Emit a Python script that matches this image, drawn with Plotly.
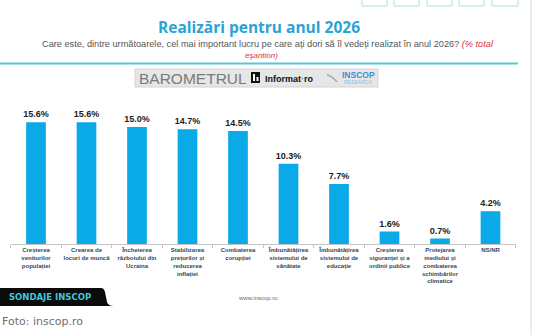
import plotly.graph_objects as go

# Survey answers: "most important achievement wanted in 2026" (% of total sample)
categories = [
    "Creșterea<br>veniturilor<br>populației",
    "Crearea de<br>locuri de muncă",
    "Încheierea<br>războiului din<br>Ucraina",
    "Stabilizarea<br>prețurilor și<br>reducerea<br>inflației",
    "Combaterea<br>corupției",
    "Îmbunătățirea<br>sistemului de<br>sănătate",
    "Îmbunătățirea<br>sistemului de<br>educație",
    "Creșterea<br>siguranței și a<br>ordinii publice",
    "Protejarea<br>mediului și<br>combaterea<br>schimbărilor<br>climatice",
    "NS/NR",
]
values = [15.6, 15.6, 15.0, 14.7, 14.5, 10.3, 7.7, 1.6, 0.7, 4.2]

title_text = "Realizări pentru anul 2026"
question_text = ("Care este, dintre următoarele, cel mai important lucru pe care "
                 "ați dori să îl vedeți realizat în anul 2026?")
note_line1 = "(% total"
note_line2 = "eșantion)"

W, H = 540, 335


def X(px):
    return px / W


def Y(py):
    return 1 - py / H


BAR_BLUE = "#0aaae8"
TITLE_BLUE = "#2aa2d6"

fig = go.Figure(
    go.Bar(
        x=categories,
        y=values,
        width=0.39,
        marker=dict(color=BAR_BLUE, line=dict(width=0)),
        texttemplate="%{y:.1f}%",
        textposition="outside",
        constraintext="none",
        textfont=dict(family="Liberation Sans", size=9, color="#222222", weight="bold"),
        cliponaxis=False,
        hoverinfo="skip",
    )
)

shapes = []
annotations = []

# top-right toolbar buttons
for x0, x1 in [(362, 387), (394, 419), (427, 452), (459, 484), (492, 518)]:
    shapes.append(dict(type="rect", xref="paper", yref="paper",
                       x0=X(x0), x1=X(x1), y0=Y(6), y1=Y(-3),
                       line=dict(color="#b4dede", width=1), fillcolor="white"))

# right page border
shapes.append(dict(type="line", xref="paper", yref="paper",
                   x0=X(531), x1=X(531), y0=0, y1=1,
                   line=dict(color="#ececec", width=2)))

# cyan divider under the header
shapes.append(dict(type="line", xref="paper", yref="paper",
                   x0=X(0), x1=X(518), y0=Y(63.5), y1=Y(63.5),
                   line=dict(color="#5cc3d8", width=2)))

# logo band
shapes.append(dict(type="rect", xref="paper", yref="paper",
                   x0=X(135), x1=X(378), y0=Y(87), y1=Y(69),
                   line=dict(color="#d4d4d4", width=1), fillcolor="#e6e6e6"))
shapes.append(dict(type="rect", xref="paper", yref="paper",
                   x0=X(251), x1=X(260), y0=Y(83), y1=Y(72),
                   line=dict(width=0), fillcolor="#111111"))
shapes.append(dict(type="rect", xref="paper", yref="paper",
                   x0=X(253), x1=X(255), y0=Y(81), y1=Y(74),
                   line=dict(width=0), fillcolor="white"))
shapes.append(dict(type="rect", xref="paper", yref="paper",
                   x0=X(256.5), x1=X(258.5), y0=Y(81), y1=Y(77),
                   line=dict(width=0), fillcolor="white"))
shapes.append(dict(type="path", xref="paper", yref="paper",
                   path=(f"M {X(327)},{Y(74)} Q {X(333)},{Y(76)} {X(338)},{Y(82)} "
                         f"L {X(336)},{Y(82)} Q {X(332)},{Y(77)} {X(327)},{Y(75.5)} Z"),
                   line=dict(width=0), fillcolor="#9aa6b2"))

# "SONDAJE INSCOP" tab
shapes.append(dict(type="path", xref="paper", yref="paper",
                   path=(f"M {X(0)},{Y(288)} L {X(101)},{Y(288)} "
                         f"Q {X(104)},{Y(288)} {X(105)},{Y(292)} "
                         f"L {X(107)},{Y(302)} Q {X(108)},{Y(306)} {X(114)},{Y(306)} "
                         f"L {X(0)},{Y(306)} Z"),
                   line=dict(width=0), fillcolor="#0b0b0b"))

# header texts
annotations.append(dict(xref="paper", yref="paper", x=X(259), y=Y(27),
                        text=title_text, showarrow=False,
                        xanchor="center", yanchor="middle",
                        font=dict(family="Open Sans", size=15.5, color=TITLE_BLUE, weight="bold")))
annotations.append(dict(xref="paper", yref="paper", x=X(268), y=Y(44.5),
                        text=(f"{question_text} "
                              f"<span style='color:#d9363e'><i>{note_line1}</i></span>"),
                        showarrow=False, xanchor="center", yanchor="middle",
                        font=dict(family="Liberation Sans", size=9.2, color="#555555")))
annotations.append(dict(xref="paper", yref="paper", x=X(261), y=Y(56),
                        text=f"<i>{note_line2}</i>", showarrow=False,
                        xanchor="center", yanchor="middle",
                        font=dict(family="Liberation Sans", size=8, color="#d9363e")))

# logo texts
annotations.append(dict(xref="paper", yref="paper", x=X(137), y=Y(78.5),
                        text="BAROMETRUL", showarrow=False,
                        xanchor="left", yanchor="middle",
                        font=dict(family="Liberation Sans", size=15.5, color="#7a7a7a")))
annotations.append(dict(xref="paper", yref="paper", x=X(263), y=Y(78.5),
                        text="Informat<span style='color:#888'>·</span>ro", showarrow=False,
                        xanchor="left", yanchor="middle",
                        font=dict(family="Liberation Sans", size=9, color="#111111", weight="bold")))
annotations.append(dict(xref="paper", yref="paper", x=X(358), y=Y(74.5),
                        text="INSCOP", showarrow=False,
                        xanchor="center", yanchor="middle",
                        font=dict(family="Liberation Sans", size=8.5, color="#3b8fd4", weight="bold")))
annotations.append(dict(xref="paper", yref="paper", x=X(358), y=Y(82),
                        text="RESEARCH", showarrow=False,
                        xanchor="center", yanchor="middle",
                        font=dict(family="Liberation Sans", size=5, color="#8fc0e6")))

# footer texts
annotations.append(dict(xref="paper", yref="paper", x=X(7), y=Y(297),
                        text="SONDAJE INSCOP", showarrow=False,
                        xanchor="left", yanchor="middle",
                        font=dict(family="DejaVu Sans", size=8.5, color="#43c6da", weight="bold")))
annotations.append(dict(xref="paper", yref="paper", x=X(258), y=Y(298),
                        text="www.inscop.ro", showarrow=False,
                        xanchor="center", yanchor="middle",
                        font=dict(family="Liberation Sans", size=6, color="#6a6a6a")))
annotations.append(dict(xref="paper", yref="paper", x=X(0), y=Y(321),
                        text="Foto: inscop.ro", showarrow=False,
                        xanchor="left", yanchor="middle",
                        font=dict(family="DejaVu Sans", size=11, color="#707070")))

PX_PER_PCT = 7.8
top_px, base_px = 100, 244

fig.update_layout(
    width=W, height=H,
    margin=dict(l=0, r=0, t=0, b=0),
    paper_bgcolor="white", plot_bgcolor="white",
    showlegend=False,
    shapes=shapes,
    annotations=annotations,
    xaxis=dict(
        domain=[X(10.75), X(515.75)],
        range=[-0.5, len(categories) - 0.5],
        showline=True, linecolor="#c4c4c4", linewidth=1,
        ticks="outside", tickson="boundaries", ticklen=3, tickcolor="#c4c4c4",
        tickangle=0,
        showgrid=False, zeroline=False, fixedrange=True,
        tickfont=dict(family="Liberation Sans", size=6, color="#34475a", weight="bold"),
    ),
    yaxis=dict(
        domain=[Y(base_px), Y(top_px)],
        range=[0, (base_px - top_px) / PX_PER_PCT],
        visible=False, fixedrange=True,
    ),
)

fig.write_html("out.html")
